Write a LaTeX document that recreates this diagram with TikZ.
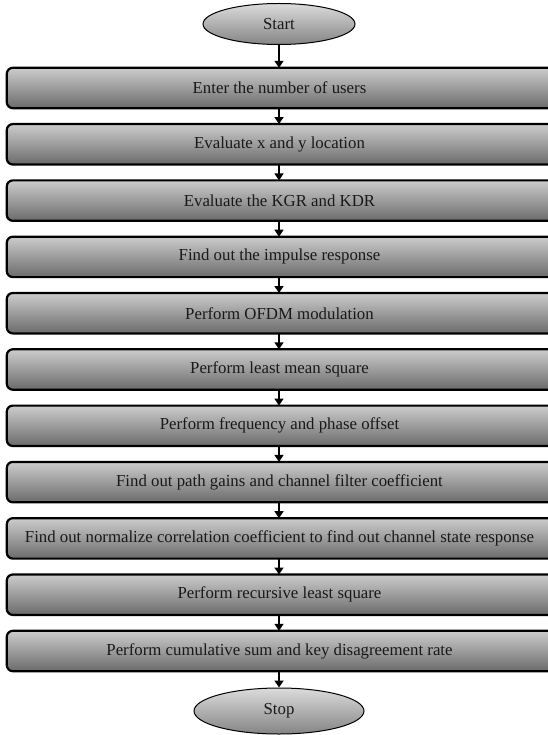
\documentclass[tikz,border=0pt]{standalone}
\usepackage{fontspec}
\setmainfont{Liberation Serif}
\usetikzlibrary{shapes.geometric,arrows.meta,backgrounds}
\tikzset{
  stepbox/.style={rectangle, minimum width=545pt, minimum height=40pt, inner sep=0pt,
    font=\fontsize{16.8pt}{19pt}\selectfont, text=black!90},
  boxbg/.style={rounded corners=6pt, draw=black, line width=2.2pt,
    top color=black!20, bottom color=black!58},
  term/.style={ellipse, draw=black, line width=1pt, top color=black!14, bottom color=black!48,
    inner sep=0pt, font=\fontsize{16.8pt}{19pt}\selectfont, text=black!90},
  flow/.style={line width=1.4pt, -{Triangle[width=9pt,length=7pt]}}
}
\begin{document}
\begin{tikzpicture}[x=1pt,y=-1pt]
\useasboundingbox (0,0) rectangle (547,735);
\clip (0,0) rectangle (547,735);
\node[term, minimum width=152pt, minimum height=41pt] (start) at (279,24) {Start};
\node[stepbox] (b1) at (279.5,88) {Enter the number of users};
\node[stepbox] (b2) at (279.5,144.3) {Evaluate x and y location};
\node[stepbox] (b3) at (279.5,200.6) {Evaluate the KGR and KDR};
\node[stepbox] (b4) at (279.5,256.9) {Find out the impulse response};
\node[stepbox] (b5) at (279.5,313.2) {Perform OFDM modulation};
\node[stepbox] (b6) at (279.5,369.5) {Perform least mean square};
\node[stepbox] (b7) at (279.5,425.8) {Perform frequency and phase offset};
\node[stepbox] (b8) at (279.5,482.1) {Find out path gains and channel filter coefficient};
\node[stepbox] (b9) at (279.5,538.4) {Find out normalize correlation coefficient to find out channel state response};
\node[stepbox] (b10) at (279.5,594.7) {Perform recursive least square};
\node[stepbox] (b11) at (279.5,651) {Perform cumulative sum and key disagreement rate};
\node[term, minimum width=170pt, minimum height=46pt] (stop) at (279,711) {Stop};
\begin{scope}[on background layer]
\foreach \b in {b1,b2,b3,b4,b5,b6,b7,b8,b9,b10,b11}
  \path[boxbg] (\b.north west) rectangle ([xshift=20pt]\b.south east);
\end{scope}
\draw[flow] (start.south) -- (start.south |- b1.north);
\foreach \a/\b in {b1/b2,b2/b3,b3/b4,b4/b5,b5/b6,b6/b7,b7/b8,b8/b9,b9/b10,b10/b11}
  \draw[flow] (\a.south -| start.south) -- (\b.north -| start.south);
\draw[flow] (b11.south -| start.south) -- (stop.north);
\end{tikzpicture}
\end{document}
